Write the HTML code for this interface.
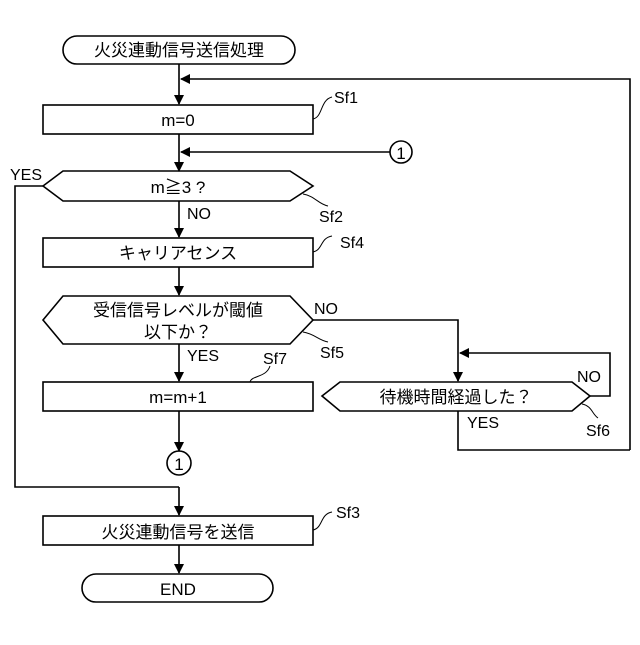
<!DOCTYPE html>
<html><head><meta charset="utf-8"><style>
html,body{margin:0;padding:0;background:#fff}
text{font-family:"Liberation Sans","Noto Sans CJK JP",sans-serif;fill:#000}
</style></head><body>
<svg width="640" height="640" viewBox="0 0 640 640" xmlns="http://www.w3.org/2000/svg">
<defs><marker id="a" markerWidth="10" markerHeight="10" refX="9" refY="5" orient="auto" markerUnits="userSpaceOnUse"><path d="M0,0 L10,5 L0,10 z" fill="#000"/></marker></defs>
<g fill="none" stroke="#000" stroke-width="1.6">
<rect x="63" y="36" width="232" height="28" rx="14" fill="#fff"/>
<line x1="179" y1="64" x2="179" y2="104" marker-end="url(#a)"/>
<polyline points="630,450 630,79 181,79" marker-end="url(#a)"/>
<rect x="43" y="105" width="270" height="29"/>
<line x1="179" y1="134" x2="179" y2="171" marker-end="url(#a)"/>
<circle cx="401" cy="152" r="11"/>
<line x1="390" y1="152" x2="181" y2="152" marker-end="url(#a)"/>
<polygon points="43,186 63,171 290,171 313,186 290,201 63,201"/>
<polyline points="43,186 15,186 15,487 179,487"/>
<line x1="179" y1="201" x2="179" y2="237" marker-end="url(#a)"/>
<rect x="43" y="238" width="270" height="29"/>
<line x1="179" y1="267" x2="179" y2="295" marker-end="url(#a)"/>
<polygon points="43,320 63,296 290,296 313,320 290,344 63,344"/>
<polyline points="313,320 458,320 458,381" marker-end="url(#a)"/>
<line x1="179" y1="344" x2="179" y2="381" marker-end="url(#a)"/>
<rect x="43" y="382" width="270" height="29"/>
<polygon points="322,396 340,382 572,382 590,396 572,411 340,411"/>
<polyline points="590,396 610,396 610,353 460,353" marker-end="url(#a)"/>
<polyline points="458,411 458,450 630,450"/>
<line x1="179" y1="411" x2="179" y2="451" marker-end="url(#a)"/>
<circle cx="179" cy="463" r="12"/>
<line x1="179" y1="487" x2="179" y2="515" marker-end="url(#a)"/>
<rect x="43" y="516" width="270" height="29"/>
<line x1="179" y1="545" x2="179" y2="573" marker-end="url(#a)"/>
<rect x="82" y="574" width="191" height="28" rx="14"/>
<g stroke-width="1">
<path d="M313,119 C323,117 320,100 332,97"/>
<path d="M303,194 C315,196 318,204 328,206"/>
<path d="M313,252 C323,250 320,238 332,236"/>
<path d="M303,332 C315,334 318,340 328,342"/>
<path d="M250,382 C252,375 266,378 270,366"/>
<path d="M582,404 C592,406 592,414 598,418"/>
<path d="M313,530 C323,528 320,514 332,512"/>
</g>
</g>
<g font-size="17">
<text x="179" y="56" text-anchor="middle">火災連動信号送信処理</text>
<text x="178" y="126" text-anchor="middle">m=0</text>
<text x="178" y="193" text-anchor="middle">m≧3 ?</text>
<text x="178" y="259" text-anchor="middle">キャリアセンス</text>
<text x="178" y="316" text-anchor="middle">受信信号レベルが閾値</text>
<text x="178" y="338" text-anchor="middle">以下か？</text>
<text x="178" y="403" text-anchor="middle">m=m+1</text>
<text x="456" y="403" text-anchor="middle">待機時間経過した？</text>
<text x="178" y="538" text-anchor="middle">火災連動信号を送信</text>
<text x="178" y="595" text-anchor="middle">END</text>
<text x="401" y="159" text-anchor="middle">1</text>
<text x="179" y="470" text-anchor="middle">1</text>
</g>
<g font-size="16">
<text x="334" y="103">Sf1</text>
<text x="319" y="222">Sf2</text>
<text x="340" y="248">Sf4</text>
<text x="320" y="358">Sf5</text>
<text x="263" y="364">Sf7</text>
<text x="586" y="436">Sf6</text>
<text x="336" y="518">Sf3</text>
<text x="10" y="180">YES</text>
<text x="187" y="219">NO</text>
<text x="314" y="314">NO</text>
<text x="187" y="361">YES</text>
<text x="577" y="382">NO</text>
<text x="467" y="428">YES</text>
</g>
</svg>
</body></html>
